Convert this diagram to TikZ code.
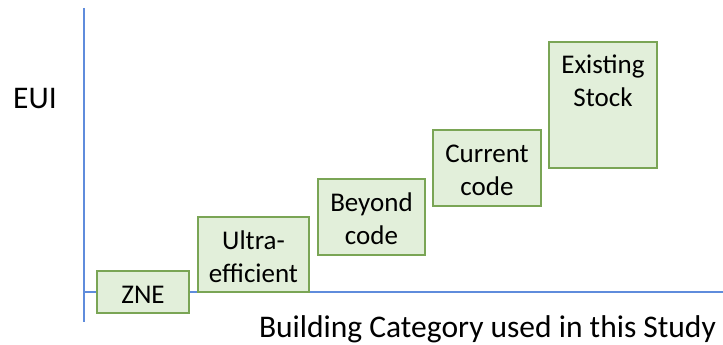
\documentclass[tikz,border=0pt]{standalone}
\usepackage{fontspec}
\setmainfont{Carlito}
\definecolor{boxfill}{RGB}{226,239,218}
\definecolor{boxline}{RGB}{122,165,85}
\definecolor{axisblue}{RGB}{95,140,220}
\begin{document}
\begin{tikzpicture}[x=1pt,y=-1pt,
  catbox/.style={draw=boxline,fill=boxfill,line width=1.4pt},
  lbl/.style={font=\fontsize{27}{33}\selectfont,align=center,inner sep=0pt},
  axislbl/.style={font=\fontsize{31.5}{36}\selectfont,inner sep=0pt},
  axisline/.style={draw=axisblue,line width=1.6pt}]
\useasboundingbox (0,0) rectangle (723,345);
\coordinate (ytop) at (84,8);
\coordinate (ybot) at (84,322);
\coordinate (xleft) at (84,292);
\coordinate (xright) at (723,292);
\draw[axisline] (ytop) -- (ybot);
\draw[axisline] (xleft) -- (xright);
\draw[catbox] (97,271) rectangle (189,313);
\node[lbl] (zne) at (143,295) {ZNE};
\draw[catbox] (198,217) rectangle (309,292);
\node[lbl] (ultra) at (253.5,257) {Ultra-\\efficient};
\draw[catbox] (318,179) rectangle (425,255);
\node[lbl] (beyond) at (371.5,219) {Beyond\\code};
\draw[catbox] (433,130) rectangle (541,206);
\node[lbl] (current) at (487,170) {Current\\code};
\draw[catbox] (549,42) rectangle (657,168);
\node[lbl,anchor=north] (existing) at (603,55) {Existing\\Stock};
\node[axislbl] (eui) at (35,99) {EUI};
\node[axislbl] (xlabel) at (487.5,329) {Building Category used in this Study};
\end{tikzpicture}
\end{document}
